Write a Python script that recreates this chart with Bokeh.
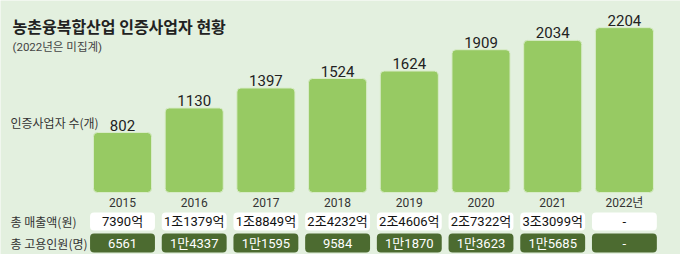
from bokeh.plotting import figure
from bokeh.models import Range1d, ColumnDataSource
from bokeh.core.properties import value
from bokeh.embed import file_html
from bokeh.resources import INLINE

# ---- data ----
years = ["2015", "2016", "2017", "2018", "2019", "2020", "2021", "2022년"]
counts = [802, 1130, 1397, 1524, 1624, 1909, 2034, 2204]
sales = ["7390억", "1조1379억", "1조8849억", "2조4232억", "2조4606억", "2조7322억", "3조3099억", "-"]
employees = ["6561", "1만4337", "1만1595", "9584", "1만1870", "1만3623", "1만5685", "-"]

title_text = "농촌융복합산업 인증사업자 현황"
subtitle_text = "(2022년은 미집계)"
row_labels = ["인증사업자 수(개)", "총 매출액(원)", "총 고용인원(명)"]

FONT = value("Roboto, 'Noto Sans CJK KR', sans-serif")
KFONT = value("Noto Sans CJK KR")
W, H = 680, 254
BG = "#e3f0df"
BAR = "#97ca63"
DARK = "#4c6b30"

idx = list(range(len(years)))
src = ColumnDataSource(dict(x=idx, year=years, count=[str(c) for c in counts],
                            top=counts, sales=sales, emp=employees))

p = figure(width=W, height=H, output_backend="svg", toolbar_location=None,
           x_range=Range1d(-1.7015, 7.7824), y_range=Range1d(-829, 2567),
           min_border=0, outline_line_color=None)
p.axis.visible = False
p.grid.visible = False
p.background_fill_color = BG
p.border_fill_color = BG
p.extra_x_ranges = {"px": Range1d(0, W)}
p.extra_y_ranges = {"py": Range1d(H, 0)}

# bars
p.vbar(x="x", top="top", bottom=0, width=0.81, source=src, fill_color=BAR,
       line_color="#d8ecc8", line_width=1, border_radius=4)
p.text(x="x", y="top", text="count", source=src, text_font=FONT, text_font_size="15px",
       text_color="#222222", text_align="center", text_baseline="bottom", y_offset=-2)

# year labels
p.text(x="x", y=202, y_range_name="py", text="year", source=src, text_font=FONT,
       text_font_size="12px", text_color="#333333", text_align="center", text_baseline="middle")

# table rows
p.rect(x="x", y=221, y_range_name="py", width=0.905, height=18, height_units="screen",
       source=src, fill_color="white", line_color=None, border_radius=4)
p.text(x="x", y=221, y_range_name="py", text="sales", source=src, text_font=FONT,
       text_font_size="13px", text_color="#111111", text_align="center", text_baseline="middle")
p.rect(x="x", y=242.5, y_range_name="py", width=0.905, height=19, height_units="screen",
       source=src, fill_color=DARK, line_color=None, border_radius=4)
p.text(x="x", y=242.5, y_range_name="py", text="emp", source=src, text_font=FONT,
       text_font_size="13px", text_color="white", text_align="center", text_baseline="middle")

# row labels
p.text(x=[10, 10, 10], y=[122, 221, 242.5], x_range_name="px", y_range_name="py",
       text=row_labels, text_font=KFONT, text_font_size="12px", text_color="#333333",
       text_align="left", text_baseline="middle")

# title and subtitle
p.text(x=[12], y=[25], x_range_name="px", y_range_name="py", text=[title_text],
       text_font=KFONT, text_font_size="16px", text_font_style="bold",
       text_color="#222222", text_align="left", text_baseline="middle")
p.text(x=[12], y=[46], x_range_name="px", y_range_name="py", text=[subtitle_text],
       text_font=FONT, text_font_size="11.5px", text_color="#444444",
       text_align="left", text_baseline="middle")

open("out.html", "w").write(file_html(p, INLINE))
